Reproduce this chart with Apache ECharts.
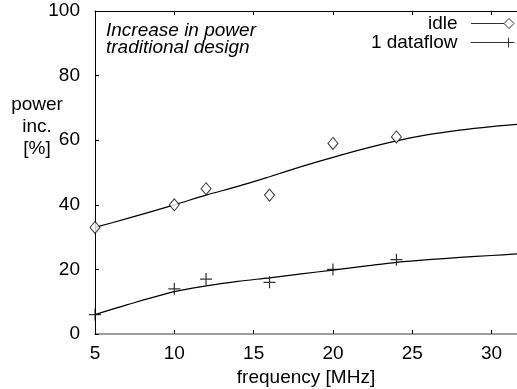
<!DOCTYPE html>
<html><head><meta charset="utf-8">
<script src="https://cdn.jsdelivr.net/npm/echarts@6/dist/echarts.min.js"></script>
<style>html,body{margin:0;padding:0;background:#fff}#c{width:517px;height:389px}</style>
</head><body><div id="c"></div>
<script>
// measured points
const freq = [5, 10, 12, 16, 20, 24];
const idleVals = [33, 40, 45, 43, 59, 61];
const dataflowVals = [6, 14, 17, 16, 20, 23];
// fitted curves
const fitX = [5, 7, 10, 12, 14, 16, 18, 20, 22, 24, 26, 28, 30, 31.6];
const idleFit = [33, 35.7, 40, 43, 45.7, 48.7, 51.8, 54.7, 57.4, 59.8, 61.7, 63.1, 64.2, 64.9];
const dataflowFit = [6, 9, 13.1, 14.9, 16.3, 17.4, 18.6, 19.8, 21, 22.2, 23, 23.7, 24.3, 24.8];
const xTicks = [5, 10, 15, 20, 25, 30];
const yTicks = [0, 20, 40, 60, 80, 100];

const FONT = 'Liberation Sans';
const FS = 19;
const plusPath = 'path://M0,5L10,5M5,0L5,10';
const zip = (a, b) => a.map((v, i) => [v, b[i]]);

const chart = echarts.init(document.getElementById('c'));
chart.setOption({
  animation: false,
  backgroundColor: '#fff',
  textStyle: {fontFamily: FONT, color: '#000'},
  grid: {left: 95, right: 0, top: 11, bottom: 55, containLabel: false, outerBoundsMode: 'none'},
  xAxis: [{
    type: 'value', min: 5, max: 31.6, interval: 5,
    axisLine: {show: true, onZero: false, lineStyle: {color: '#808080', width: 1.5}},
    axisTick: {show: true, inside: true, length: 4, lineStyle: {color: '#000'}},
    axisLabel: {fontSize: FS, color: '#000', fontFamily: FONT, margin: 10,
      formatter: v => xTicks.includes(v) ? String(v) : ''},
    splitLine: {show: false},
    name: 'frequency [MHz]', nameLocation: 'middle', nameGap: 33,
    nameTextStyle: {fontSize: FS, color: '#000', fontFamily: FONT}
  }, {
    type: 'value', position: 'top', min: 5, max: 31.6, interval: 5,
    axisLine: {show: true, onZero: false, lineStyle: {color: '#000', width: 1}},
    axisTick: {show: true, inside: true, length: 4, lineStyle: {color: '#000'}},
    axisLabel: {show: false}, splitLine: {show: false}
  }],
  yAxis: {
    type: 'value', min: 0, max: 100, interval: 20,
    axisLine: {show: true, onZero: false, lineStyle: {color: '#000', width: 1}},
    axisTick: {show: true, inside: true, length: 4, lineStyle: {color: '#000'}},
    axisLabel: {fontSize: FS, color: '#000', fontFamily: FONT, margin: 15,
      formatter: v => yTicks.includes(v) ? String(v) : ''},
    splitLine: {show: false}
  },
  legend: {
    orient: 'vertical', right: 0, top: 14, align: 'right', padding: 0,
    itemWidth: 44, itemHeight: 10, itemGap: 0,
    textStyle: {fontSize: FS, color: '#000', fontFamily: FONT, lineHeight: 18, padding: [0, 8, 0, 0]},
    data: [
      {name: 'idle', icon: 'path://M0,5L33,5M38,0L43,5L38,10L33,5Z',
       itemStyle: {color: 'none', borderColor: '#000', borderWidth: 1}},
      {name: '1 dataflow', icon: 'path://M0,5L44,5M38,0L38,10',
       itemStyle: {color: 'none', borderColor: '#000', borderWidth: 1}}
    ]
  },
  graphic: [
    {type: 'text', x: 106, y: 22, style: {text: 'Increase in power\ntraditional design',
      font: 'italic 19px "Liberation Sans"', fill: '#000', lineHeight: 17}},
    {type: 'text', x: 37, y: 94, style: {text: 'power\ninc.\n[%]', align: 'center',
      font: '19px "Liberation Sans"', fill: '#000', lineHeight: 22}}
  ],
  series: [
    {name: 'idle fit', type: 'line', smooth: 0.3, symbol: 'none', data: zip(fitX, idleFit),
     lineStyle: {color: '#000', width: 1.2}, silent: true},
    {name: 'dataflow fit', type: 'line', smooth: 0.3, symbol: 'none', data: zip(fitX, dataflowFit),
     lineStyle: {color: '#000', width: 1.2}, silent: true},
    {name: 'idle', type: 'scatter', symbol: 'diamond', symbolSize: [10, 12],
     itemStyle: {color: '#fff', borderColor: '#000', borderWidth: 1}, data: zip(freq, idleVals), z: 5},
    {name: '1 dataflow', type: 'scatter', symbol: plusPath, symbolSize: 12,
     itemStyle: {color: 'none', borderColor: '#000', borderWidth: 1.2}, data: zip(freq, dataflowVals), z: 5}
  ]
});
</script></body></html>
